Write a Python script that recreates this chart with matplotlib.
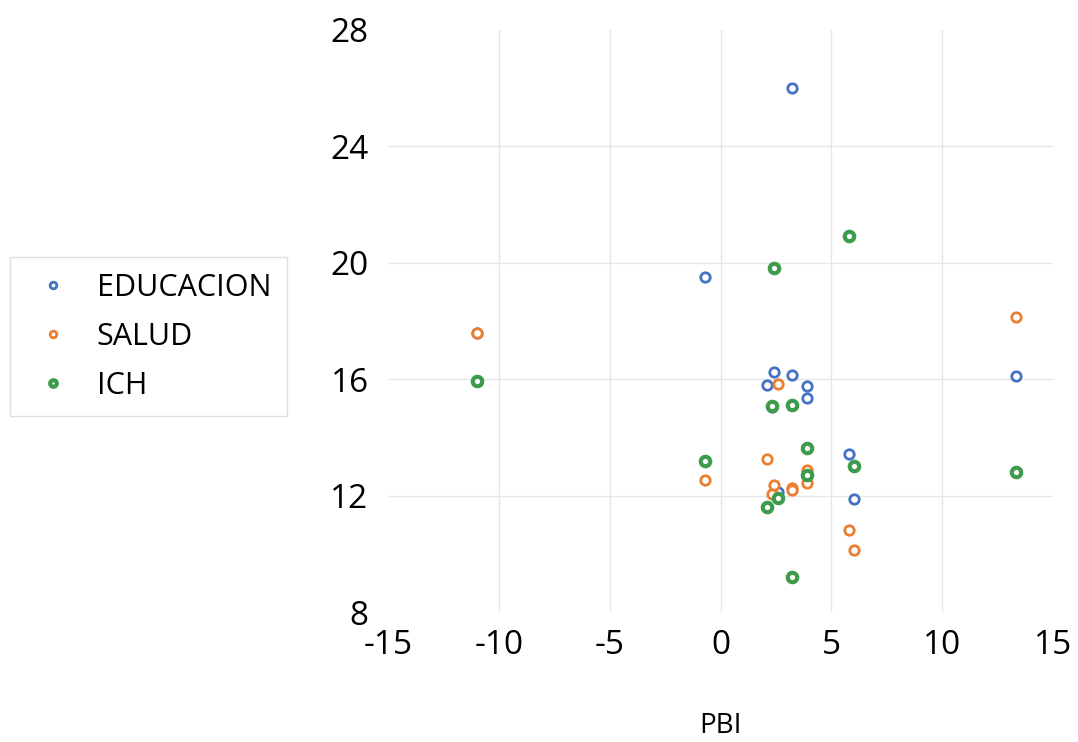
import matplotlib
matplotlib.use("Agg")
import matplotlib.pyplot as plt

plt.rcParams['font.family'] = ['Open Sans', 'DejaVu Sans']
plt.rcParams['axes.unicode_minus'] = False

pbi = [-11.0, -0.7, 2.1, 2.3, 2.4, 2.6, 3.2, 3.2, 3.9, 3.9, 5.8, 6.0, 13.3]
educacion = [17.6, 19.5, 15.8, 15.06, 16.25, 12.12, 26.0, 16.14, 15.75, 15.35, 13.42, 11.88, 16.1]
salud = [17.6, 12.54, 13.26, 12.05, 12.37, 15.84, 12.25, 12.2, 12.88, 12.45, 10.82, 10.13, 18.15]
ich = [15.95, 13.2, 11.6, 15.09, 19.8, 11.91, 15.12, 9.22, 13.63, 12.71, 20.9, 13.02, 12.8]

xticks = [-15, -10, -5, 0, 5, 10, 15]
yticks = [8, 12, 16, 20, 24, 28]

fig = plt.figure(figsize=(10.78, 7.42), dpi=100)
ax = fig.add_axes([0.36, 0.175, 0.617, 0.785])

ax.plot(pbi, educacion, 'o', ls='none', ms=6.8, mew=2, mec='#4472C4', mfc='white', label='EDUCACION', zorder=3)
ax.plot(pbi, salud, 'o', ls='none', ms=6.8, mew=2, mec='#ED7D31', mfc='white', label='SALUD', zorder=3)
ax.plot(pbi, ich, 'o', ls='none', ms=6.8, mew=3, mec='#3E9B4C', mfc='white', label='ICH', zorder=3)

ax.set_xlim(-15, 15)
ax.set_ylim(8, 28)
ax.set_xticks(xticks)
ax.set_yticks(yticks)
ax.tick_params(axis='both', length=0, labelsize=24, colors='black')
ax.tick_params(axis='x', pad=12)
ax.tick_params(axis='y', pad=14)
for s in ax.spines.values():
    s.set_visible(False)

# interior gridlines only
for xv in xticks[1:-1]:
    ax.axvline(xv, color='#e6e6e6', lw=1, zorder=0)
for yv in yticks[1:-1]:
    ax.axhline(yv, color='#e6e6e6', lw=1, zorder=0)

ax.set_xlabel('PBI', fontsize=20, labelpad=36)

leg = fig.legend(loc='upper left', bbox_to_anchor=(0.009, 0.653), fontsize=22,
                 frameon=True, fancybox=False, edgecolor='#d9d9d9', markerscale=0.7,
                 handletextpad=0.5, labelspacing=0.62, borderpad=0.5, handlelength=1.85,
                 borderaxespad=0)
leg.get_frame().set_linewidth(1)

fig.savefig('out.png', dpi=100)
